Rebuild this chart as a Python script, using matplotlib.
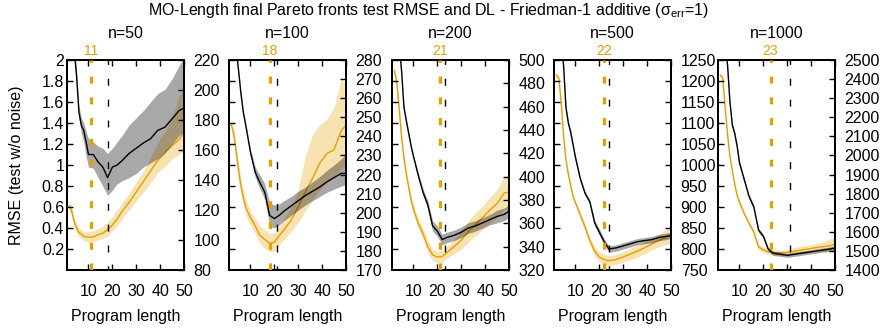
import matplotlib
matplotlib.use('Agg')
import matplotlib.pyplot as plt
import matplotlib.transforms as mtransforms
import numpy as np

plt.rcParams['font.family'] = ['Liberation Sans', 'DejaVu Sans']
plt.rcParams['mathtext.fontset'] = 'custom'
plt.rcParams['mathtext.rm'] = 'Liberation Sans'
plt.rcParams['mathtext.it'] = 'Liberation Sans:italic'

## program length grid shared by every curve
plen = [2, 3, 4, 5, 6, 7, 8, 9, 10, 12, 14, 16, 18, 20, 22, 24, 27, 30, 33, 36, 39, 42, 45, 48, 50]

sizes = ['n=50', 'n=100', 'n=200', 'n=500', 'n=1000']
best_dl = [11, 18, 21, 22, 23]      ## orange dashed line (min DL)
best_rmse = [18, 21, 23, 24, 31]    ## black dashed line (min RMSE)

## test RMSE (left axis, shared 0-2) : mean, upper, lower
rmse_50 = [2.6, 2.4, 2.1, 1.85, 1.5, 1.38, 1.33, 1.22, 1.10, 1.10, 1.03, 0.98, 0.88, 0.98, 1.0, 1.04, 1.11, 1.16, 1.21, 1.25, 1.33, 1.36, 1.44, 1.52, 1.54]
rmse_50_hi = [2.7, 2.5, 2.2, 1.9, 1.56, 1.45, 1.40, 1.32, 1.25, 1.22, 1.18, 1.16, 1.11, 1.16, 1.22, 1.28, 1.38, 1.45, 1.52, 1.6, 1.68, 1.72, 1.82, 1.95, 2.02]
rmse_50_lo = [2.5, 2.3, 2.0, 1.78, 1.44, 1.3, 1.22, 1.08, 0.98, 0.97, 0.88, 0.80, 0.71, 0.76, 0.82, 0.85, 0.88, 0.92, 0.98, 1.02, 1.06, 1.12, 1.2, 1.28, 1.32]

rmse_100 = [2.6, 2.4, 2.1, 1.9, 1.68, 1.5, 1.38, 1.25, 1.12, 0.93, 0.83, 0.74, 0.52, 0.49, 0.52, 0.56, 0.61, 0.66, 0.71, 0.75, 0.79, 0.84, 0.88, 0.92, 0.92]
rmse_100_hi = [2.62, 2.42, 2.12, 1.92, 1.7, 1.52, 1.4, 1.27, 1.15, 0.98, 0.9, 0.82, 0.64, 0.62, 0.63, 0.66, 0.7, 0.75, 0.79, 0.84, 0.89, 0.95, 1.0, 1.06, 1.1]
rmse_100_lo = [2.58, 2.38, 2.08, 1.88, 1.66, 1.48, 1.36, 1.23, 1.09, 0.88, 0.77, 0.67, 0.42, 0.4, 0.43, 0.47, 0.52, 0.57, 0.62, 0.66, 0.7, 0.74, 0.77, 0.8, 0.81]

rmse_200 = [2.6, 2.4, 2.15, 1.9, 1.55, 1.42, 1.3, 1.18, 1.08, 0.9, 0.74, 0.62, 0.42, 0.37, 0.29, 0.31, 0.33, 0.36, 0.4, 0.42, 0.45, 0.48, 0.51, 0.53, 0.56]
rmse_200_hi = [2.62, 2.42, 2.17, 1.92, 1.57, 1.44, 1.32, 1.2, 1.1, 0.93, 0.77, 0.66, 0.47, 0.42, 0.34, 0.36, 0.38, 0.41, 0.45, 0.47, 0.5, 0.53, 0.57, 0.59, 0.62]
rmse_200_lo = [2.58, 2.38, 2.13, 1.88, 1.53, 1.40, 1.28, 1.16, 1.06, 0.87, 0.71, 0.58, 0.37, 0.32, 0.24, 0.26, 0.28, 0.31, 0.35, 0.37, 0.4, 0.43, 0.45, 0.47, 0.5]

rmse_500 = [2.7, 2.5, 2.2, 1.95, 1.55, 1.4, 1.31, 1.19, 1.07, 0.87, 0.73, 0.65, 0.45, 0.36, 0.27, 0.2, 0.21, 0.23, 0.25, 0.27, 0.28, 0.29, 0.31, 0.32, 0.33]
rmse_500_hi = [2.72, 2.52, 2.22, 1.97, 1.57, 1.42, 1.33, 1.21, 1.09, 0.89, 0.75, 0.67, 0.48, 0.39, 0.3, 0.23, 0.24, 0.26, 0.28, 0.3, 0.31, 0.32, 0.34, 0.35, 0.36]
rmse_500_lo = [2.68, 2.48, 2.18, 1.93, 1.53, 1.38, 1.29, 1.17, 1.05, 0.85, 0.71, 0.63, 0.42, 0.33, 0.24, 0.17, 0.18, 0.2, 0.22, 0.24, 0.25, 0.26, 0.28, 0.29, 0.3]

rmse_1000 = [2.7, 2.5, 2.15, 1.95, 1.6, 1.38, 1.3, 1.18, 1.02, 0.86, 0.7, 0.6, 0.38, 0.32, 0.2, 0.16, 0.15, 0.14, 0.15, 0.16, 0.17, 0.18, 0.19, 0.2, 0.21]
rmse_1000_hi = [2.72, 2.52, 2.17, 1.97, 1.62, 1.4, 1.32, 1.2, 1.04, 0.88, 0.72, 0.62, 0.4, 0.34, 0.22, 0.18, 0.17, 0.16, 0.17, 0.18, 0.19, 0.2, 0.21, 0.22, 0.23]
rmse_1000_lo = [2.68, 2.48, 2.13, 1.93, 1.58, 1.36, 1.28, 1.16, 1.0, 0.84, 0.68, 0.58, 0.36, 0.3, 0.18, 0.14, 0.13, 0.12, 0.13, 0.14, 0.15, 0.16, 0.17, 0.18, 0.19]

## description length (right axis, own scale per panel) : mean, upper, lower
dl_50 = [123, 119, 112, 108, 105, 104, 102.5, 102, 101.8, 102, 103.5, 104.5, 107, 110, 114, 119, 125, 132, 139, 146, 153, 158, 163, 167, 172]
dl_50_hi = [126, 122, 115, 111, 108, 107, 106, 105.5, 105.5, 106, 107.5, 109, 112, 115.5, 120, 125, 131, 139, 146, 155, 165, 172, 181, 196, 201]
dl_50_lo = [120, 116, 109, 105, 102, 101, 99.5, 99, 98.5, 99, 100, 101, 103, 106, 109.5, 114, 120, 126, 132, 138, 145, 149, 154, 157, 159]

dl_100 = [246, 241, 232, 222, 214, 208, 203, 200, 197.5, 193, 188, 186, 184, 184.5, 188, 191, 196, 203, 211, 218, 226, 231, 233, 243, 246]
dl_100_hi = [249, 244, 235, 226, 218, 212, 207, 204, 201, 197, 193, 191, 189, 189.5, 193, 197, 203, 212, 230, 241, 246, 249, 255, 270, 267]
dl_100_lo = [243, 238, 229, 218, 210, 204, 199, 196, 193.5, 189, 183.5, 181.5, 179.5, 180, 183, 186, 190, 195, 201, 207, 212, 216, 219, 223, 226]

dl_200 = [491, 481, 458, 434, 416, 402, 391, 380, 372, 360, 351, 340, 333, 331, 331.5, 335, 340, 345.5, 353, 359, 365, 371.5, 377, 386, 387]
dl_200_hi = [494, 484, 461, 437, 420, 406, 395, 384, 376, 364, 356, 345, 338, 336, 336.5, 340, 346, 353.5, 362, 369, 375, 382.5, 389, 400, 402]
dl_200_lo = [488, 478, 455, 431, 412, 398, 387, 376, 368, 356, 346, 335, 328, 326, 326.5, 330, 334, 337.5, 344, 349, 355, 360.5, 365, 372, 372]

dl_500 = [1214, 1207, 1150, 1070, 1012, 978, 950, 925, 910, 881, 852, 820, 795, 781, 775, 772, 775, 781, 788, 795, 803, 812, 820, 828, 833]
dl_500_hi = [1220, 1213, 1156, 1076, 1018, 984, 956, 931, 916, 889, 860, 828, 807, 793, 787, 784, 787, 793, 802, 809, 817, 826, 834, 846, 853]
dl_500_lo = [1208, 1201, 1144, 1064, 1006, 972, 944, 919, 904, 873, 844, 812, 783, 769, 763, 760, 763, 769, 774, 781, 789, 798, 806, 810, 813]

dl_1000 = [2421, 2404, 2250, 2110, 1995, 1920, 1850, 1790, 1755, 1695, 1645, 1598, 1520, 1505, 1495, 1492, 1490, 1493, 1498, 1505, 1511, 1517, 1522, 1528, 1534]
dl_1000_hi = [2431, 2414, 2260, 2120, 2005, 1930, 1860, 1800, 1765, 1707, 1657, 1610, 1534, 1519, 1509, 1506, 1504, 1507, 1518, 1525, 1531, 1537, 1547, 1563, 1569]
dl_1000_lo = [2411, 2394, 2240, 2100, 1985, 1910, 1840, 1780, 1745, 1683, 1633, 1586, 1506, 1491, 1481, 1478, 1476, 1479, 1478, 1485, 1491, 1497, 1497, 1493, 1499]

## right axis ranges (min, max, step)
dl_ranges = [(80, 220, 20), (170, 280, 10), (320, 500, 20), (750, 1250, 50), (1400, 2500, 100)]

rmse_all = [(rmse_50, rmse_50_hi, rmse_50_lo), (rmse_100, rmse_100_hi, rmse_100_lo),
            (rmse_200, rmse_200_hi, rmse_200_lo), (rmse_500, rmse_500_hi, rmse_500_lo),
            (rmse_1000, rmse_1000_hi, rmse_1000_lo)]
dl_all = [(dl_50, dl_50_hi, dl_50_lo), (dl_100, dl_100_hi, dl_100_lo),
          (dl_200, dl_200_hi, dl_200_lo), (dl_500, dl_500_hi, dl_500_lo),
          (dl_1000, dl_1000_hi, dl_1000_lo)]

orange = '#E69F00'
fs = 11.5
W, H = 882, 330
fig = plt.figure(figsize=(W / 100, H / 100), dpi=100)

lefts = [67, 229, 392, 554, 718]  ## panel left edges in pixels
pw, ptop, pbot = 117, 60, 270

for i in range(5):
    ax = fig.add_axes([lefts[i] / W, (H - pbot) / H, pw / W, (pbot - ptop) / H])
    ax2 = ax.twinx()
    m, hi, lo = rmse_all[i]
    d, dhi, dlo = dl_all[i]
    ymin, ymax, ystep = dl_ranges[i]

    ax2.fill_between(plen, dlo, dhi, color=orange, alpha=0.3, lw=0)
    ax2.plot(plen, d, color=orange, lw=1)
    ax.fill_between(plen, lo, hi, color='black', alpha=0.34, lw=0, zorder=3)
    ax.plot(plen, m, color='black', lw=1, zorder=4)
    ax.set_zorder(ax2.get_zorder() + 1)
    ax.patch.set_visible(False)

    ax.axvline(best_dl[i], color=orange, lw=2.3, ls=(0, (2.2, 4.3)), zorder=5)
    ax.axvline(best_rmse[i], color='black', lw=1, ls=(2, (5, 10)), zorder=5)
    trans = mtransforms.blended_transform_factory(ax.transData, ax.transAxes)
    ax.text(best_dl[i], 1.01, str(best_dl[i]), transform=trans, ha='center', va='bottom',
            color=orange, fontsize=10)

    ax.set_xlim(1, 50)
    ax.set_ylim(0, 2)
    ax2.set_ylim(ymin, ymax)
    ax.set_xticks([10, 20, 30, 40, 50])
    ax.set_yticks(np.arange(0.2, 2.01, 0.2))
    ax2.set_yticks(np.arange(ymin, ymax + 1, ystep))
    if i == 0:
        ax.set_yticklabels(['0.2', '0.4', '0.6', '0.8', '1', '1.2', '1.4', '1.6', '1.8', '2'])
    else:
        ax.set_yticklabels([])
    ax.tick_params(axis='x', direction='in', length=4, width=1, top=True, labelsize=fs, pad=10)
    ax.tick_params(axis='y', direction='in', length=4, width=1, right=False, labelsize=fs, pad=2)
    ax2.tick_params(axis='y', direction='in', length=4, width=1, labelsize=fs, pad=7)
    for a in (ax, ax2):
        for s in a.spines.values():
            s.set_linewidth(1.4)

    cx = (lefts[i] + pw / 2) / W
    fig.text(cx, 1 - 34 / H, sizes[i], ha='center', va='center', fontsize=fs)
    fig.text(cx, 1 - 317 / H, 'Program length', ha='center', va='center', fontsize=fs)

fig.text(17 / W, 0.5, 'RMSE (test w/o noise)', rotation=90, ha='center', va='center', fontsize=fs)
fig.text(428 / W, 1 - 11 / H,
         r'MO-Length final Pareto fronts test RMSE and DL - Friedman-1 additive (σ$_{\mathrm{err}}$=1)',
         ha='center', va='center', fontsize=fs)

fig.savefig('out.png', dpi=100)
